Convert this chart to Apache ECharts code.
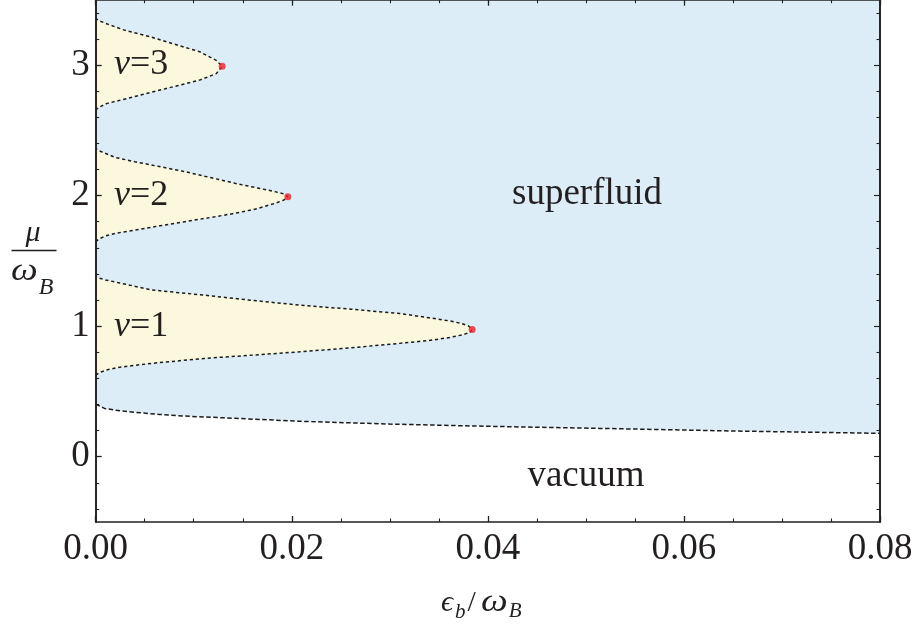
<!DOCTYPE html>
<html>
<head>
<meta charset="utf-8">
<script src="https://cdn.jsdelivr.net/npm/echarts@6/dist/echarts.min.js"></script>
<style>
  html, body { margin: 0; padding: 0; background: #ffffff; }
  #chart { width: 918px; height: 625px; }
</style>
</head>
<body>
<div id="chart"></div>
<script>
// Phase diagram in the (eps_b / omega_B, mu / omega_B) plane.
// Every boundary is a list of [eps, mu] pairs.

// Superfluid / vacuum boundary, left to right.
const vacuumEdge = [
  [0, 0.403], [0.0002, 0.388], [0.0009, 0.370], [0.0020, 0.356], [0.0040, 0.340],
  [0.0065, 0.324], [0.0091, 0.311], [0.0142, 0.294], [0.0210, 0.271], [0.0300, 0.250],
  [0.0399, 0.233], [0.0514, 0.217], [0.0650, 0.197], [0.0800, 0.179]
];

// Insulating lobes: lower branch from eps = 0 out to the tip ...
const lobe1Lower = [
  [0, 0.625], [0.0004, 0.645], [0.0012, 0.666], [0.0023, 0.684], [0.0057, 0.715],
  [0.0111, 0.753], [0.0160, 0.778], [0.0208, 0.803], [0.0260, 0.834], [0.0310, 0.868],
  [0.0340, 0.890], [0.0361, 0.913], [0.0375, 0.935], [0.0382, 0.955], [0.0384, 0.975]
];
// ... and upper branch from the tip back to eps = 0.
const lobe1Upper = [
  [0.0380, 1.003], [0.0372, 1.022], [0.0361, 1.040], [0.0340, 1.064], [0.0310, 1.097],
  [0.0260, 1.130], [0.0208, 1.161], [0.0160, 1.197], [0.0111, 1.237], [0.0057, 1.277],
  [0.0023, 1.333], [0.0010, 1.354], [0.0003, 1.369], [0, 1.378]
];

const lobe2Lower = [
  [0, 1.647], [0.0003, 1.666], [0.00095, 1.690], [0.0020, 1.711], [0.0040, 1.736],
  [0.0065, 1.768], [0.0091, 1.800], [0.0117, 1.832], [0.0142, 1.864], [0.0165, 1.900],
  [0.0183, 1.941], [0.0192, 1.966], [0.0196, 1.990]
];
const lobe2Upper = [
  [0.0192, 2.012], [0.0183, 2.030], [0.0165, 2.058], [0.0142, 2.094], [0.0117, 2.138],
  [0.0091, 2.183], [0.0065, 2.222], [0.0040, 2.259], [0.0020, 2.292], [0.00095, 2.324],
  [0.0003, 2.345], [0, 2.362]
];

const lobe3Lower = [
  [0, 2.653], [0.0003, 2.675], [0.0011, 2.704], [0.0038, 2.755], [0.0072, 2.820],
  [0.0106, 2.884], [0.0123, 2.934], [0.0129, 2.990]
];
const lobe3Upper = [
  [0.0123, 3.035], [0.0106, 3.102], [0.0080, 3.160], [0.0055, 3.217], [0.0030, 3.265],
  [0.00146, 3.306], [0.0004, 3.337], [0, 3.356]
];

// Lobe tips (critical points).
const tipEps = [0.0384, 0.0196, 0.0129];
const tipMu = [0.975, 1.990, 2.990];

// Axis ranges and tick labels.
const xMin = 0, xMax = 0.08, xStep = 0.02;
const yMin = -0.5, yMax = 3.5;
const xTickLabels = ['0.00', '0.02', '0.04', '0.06', '0.08'];
const yTickValues = [0, 1, 2, 3];
const yTickLabels = ['0', '1', '2', '3'];
const yMinorStep = 0.2;

const INK = '#231f20';
const SERIF = '"Liberation Serif", "Times New Roman", "DejaVu Serif", serif';
const BLUE = '#ddedf8';
const YELLOW = '#fcf8dd';

// Minor tick positions on the mu axis (every 0.2, skipping the labelled integers).
const yMinorTicks = [];
for (let k = Math.ceil(yMin / yMinorStep); k * yMinorStep < yMax; k++) {
  const v = Math.round(k * yMinorStep * 10) / 10;
  if (Math.abs(v - Math.round(v)) > 1e-9) yMinorTicks.push(v);
}

const lobes = [
  lobe1Lower.concat(lobe1Upper),
  lobe2Lower.concat(lobe2Upper),
  lobe3Lower.concat(lobe3Upper)
];
const superfluidRegion = vacuumEdge.concat([[xMax, yMax], [xMin, yMax]]);

function regionSeries(points, fill, z) {
  return {
    type: 'custom',
    coordinateSystem: 'cartesian2d',
    silent: true,
    z: z,
    clip: true,
    data: points,
    encode: { x: 0, y: 1 },
    renderItem: function (params, api) {
      if (params.dataIndex !== 0) return null;
      return {
        type: 'polygon',
        shape: { points: points.map(function (p) { return api.coord(p); }) },
        style: { fill: fill, stroke: null }
      };
    }
  };
}

function boundarySeries(points, dash) {
  return {
    type: 'line',
    data: points,
    symbol: 'none',
    silent: true,
    z: 5,
    lineStyle: { color: '#1b1b1b', width: 1.5, type: dash }
  };
}

const xAxisBase = {
  type: 'value', min: xMin, max: xMax, interval: xStep, z: 10,
  axisLine: { show: true, onZero: false, lineStyle: { color: INK, width: 1.6 } },
  axisTick: { show: true, inside: true, length: 6, lineStyle: { color: INK, width: 1.3 } },
  minorTick: { show: true, splitNumber: 4, length: 3.5, lineStyle: { color: INK, width: 1.1 } },
  splitLine: { show: false }, minorSplitLine: { show: false }
};

function yAxisDef(position, ticks, len, labelled) {
  return {
    type: 'value', min: yMin, max: yMax, position: position, z: 10,
    axisLine: { show: true, onZero: false, lineStyle: { color: INK, width: 1.6 } },
    axisTick: { show: true, inside: true, length: len, customValues: ticks,
                lineStyle: { color: INK, width: labelled ? 1.3 : 1.1 } },
    axisLabel: labelled ? {
      show: true, customValues: ticks, margin: 6,
      fontFamily: SERIF, fontSize: 37, color: INK,
      formatter: function (v) { return yTickLabels[yTickValues.indexOf(Math.round(v))]; }
    } : { show: false },
    splitLine: { show: false }, minorTick: { show: false }
  };
}

// Width of a string in the serif face, used to lay out the axis titles.
const measureCtx = document.createElement('canvas').getContext('2d');
function textWidth(s, size, italic) {
  measureCtx.font = (italic ? 'italic ' : '') + size + 'px ' + SERIF;
  return measureCtx.measureText(s).width;
}

const chart = echarts.init(document.getElementById('chart'), null, { renderer: 'canvas' });

const series = [regionSeries(superfluidRegion, BLUE, 1)];
lobes.forEach(function (pts) { series.push(regionSeries(pts, YELLOW, 2)); });
series.push(boundarySeries(vacuumEdge, [4.5, 2.5]));
lobes.forEach(function (pts) { series.push(boundarySeries(pts, [3.2, 2.8])); });
series.push({
  type: 'scatter',
  data: tipEps.map(function (e, i) { return [e, tipMu[i]]; }),
  symbol: 'circle', symbolSize: 7, silent: true, z: 6,
  itemStyle: { color: '#ec2227' }
});

function t(text, x, y, size, opts) {
  return Object.assign({
    type: 'text', x: x, y: y, silent: true, z: 20,
    style: Object.assign({
      text: text, fontFamily: SERIF, fontSize: size, fill: INK,
      align: 'left', verticalAlign: 'middle'
    }, (opts && opts.style) || {})
  }, (opts && opts.el) || {});
}

const lobeLabelY = [327, 195.5, 64.5];
const graphics = [
  // Region names
  t('superfluid', 587, 194.5, 37, { style: { align: 'center' } }),
  t('vacuum', 586, 476, 37, { style: { align: 'center' } })
];
// Filling-factor labels inside the lobes
['1', '2', '3'].forEach(function (n, i) {
  graphics.push({
    type: 'text', x: 114, y: lobeLabelY[i], silent: true, z: 20,
    style: {
      text: '{i|ν}{n|=' + n + '}', verticalAlign: 'middle', align: 'left',
      rich: {
        i: { fontFamily: SERIF, fontSize: 36, fontStyle: 'italic', fill: INK },
        n: { fontFamily: SERIF, fontSize: 36, fill: INK }
      }
    }
  });
});

// Horizontal axis title: eps_b / omega_B (omega slightly widened, subscript set after it)
const omegaStretch = 1.22;
const omegaW = textWidth('ω', 31, true) * omegaStretch;
const omegaX = 481;
graphics.push(
  t('ϵ', 441, 603, 30, { style: { fontStyle: 'italic' } }),
  t('b', 455, 612, 21, { style: { fontStyle: 'italic' } }),
  t('/', 467.5, 603, 30),
  t('ω', omegaX, 603, 31, { style: { fontStyle: 'italic' }, el: { scaleX: omegaStretch } }),
  t('B', omegaX + omegaW + 1, 611, 21, { style: { fontStyle: 'italic' } })
);
// Vertical axis title: mu over omega_B as a stacked fraction
const omegaYW = textWidth('ω', 31, true) * omegaStretch;
graphics.push(
  t('μ', 33, 233, 30, { style: { fontStyle: 'italic', align: 'center' } }),
  { type: 'line', silent: true, z: 20,
    shape: { x1: 11.5, y1: 250.5, x2: 56.5, y2: 250.5 },
    style: { stroke: INK, lineWidth: 1.5 } },
  t('ω', 11, 272, 31, { style: { fontStyle: 'italic' }, el: { scaleX: omegaStretch } }),
  t('B', 11 + omegaYW + 1, 288, 24, { style: { fontStyle: 'italic' } })
);

chart.setOption({
  animation: false,
  backgroundColor: '#ffffff',
  grid: { left: 95.7, right: 38, top: -0.3, bottom: 103, containLabel: false, outerBoundsMode: 'none' },
  xAxis: [
    Object.assign({}, xAxisBase, {
      position: 'bottom',
      axisLabel: {
        show: true, margin: 9, fontFamily: SERIF, fontSize: 37, color: INK,
        formatter: function (v) { return xTickLabels[Math.round((v - xMin) / xStep)]; }
      }
    }),
    Object.assign({}, xAxisBase, { position: 'top', axisLabel: { show: false } })
  ],
  yAxis: [
    yAxisDef('left', yTickValues, 6, true),
    yAxisDef('left', yMinorTicks, 3.5, false),
    yAxisDef('right', yTickValues, 6, false),
    yAxisDef('right', yMinorTicks, 3.5, false)
  ],
  series: series,
  graphic: graphics
});
</script>
</body>
</html>
